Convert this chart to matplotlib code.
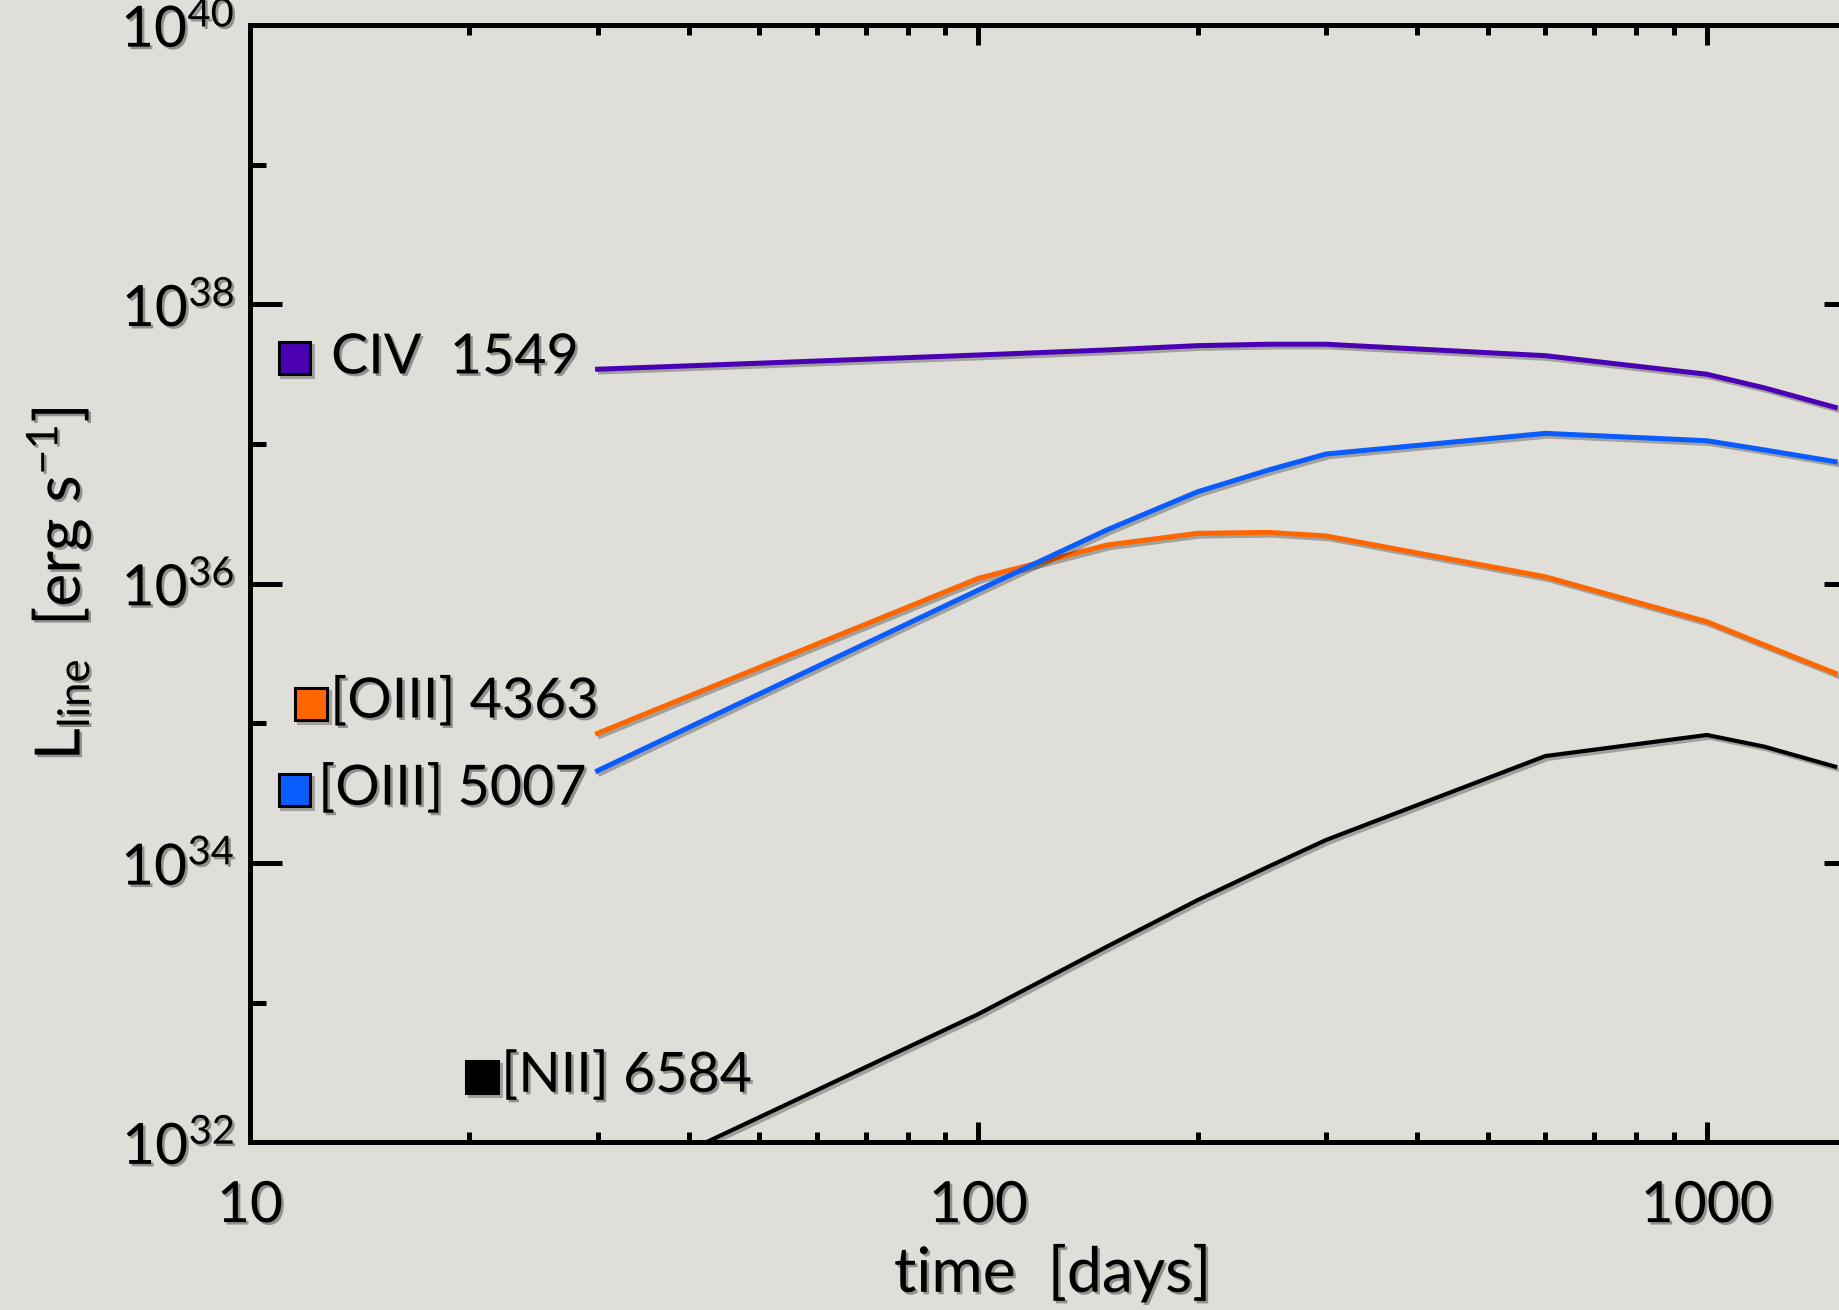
import numpy as np
import matplotlib
matplotlib.use("Agg")
import matplotlib.pyplot as plt
from matplotlib import patheffects as pe
from matplotlib.ticker import FixedLocator, FuncFormatter, NullFormatter

# ---------------- data ----------------
time_days = [30, 100, 150, 200, 250, 300, 600, 1000, 1200, 1500]
# log10 of line luminosity [erg s^-1]
log_L_civ_1549  = [37.535, 37.637, 37.673, 37.704, 37.714, 37.714, 37.632, 37.499, 37.401, 37.262]
log_L_oiii_4363 = [34.928, 36.038, 36.276, 36.360, 36.367, 36.341, 36.049, 35.727, 35.560, 35.358]
log_L_oiii_5007 = [34.660, 35.954, 36.384, 36.658, 36.813, 36.928, 37.076, 37.023, 36.957, 36.873]
log_L_nii_6584  = [31.633, 32.918, 33.400, 33.734, 33.973, 34.164, 34.765, 34.916, 34.832, 34.689]

line_names = ["CIV  1549", "[OIII] 4363", "[OIII] 5007", "[NII] 6584"]
line_colors = ["#4B00B4", "#FF6600", "#0A5CFF", "#000000"]

x_major = [10, 100, 1000]
y_major_exp = [32, 34, 36, 38, 40]
y_minor_exp = [33, 35, 37, 39]

# ---------------- style ----------------
BG = "#DFDED9"
plt.rcParams["font.family"] = ["Lato", "DejaVu Sans"]
plt.rcParams["mathtext.fontset"] = "custom"
plt.rcParams["mathtext.rm"] = "Lato"
plt.rcParams["mathtext.it"] = "Lato"
plt.rcParams["mathtext.bf"] = "Lato:bold"

fig = plt.figure(figsize=(18.4, 13.1), dpi=100, facecolor=BG)
# axes extends beyond the right edge of the canvas, as in the reference
ax = fig.add_axes([250 / 1840, (1310 - 1142.2) / 1310, 1605.6 / 1840, 1117.2 / 1310])
ax.set_facecolor(BG)

shadow_line = [pe.SimpleLineShadow(offset=(2, -2), alpha=0.28, shadow_color="black"), pe.Normal()]
shadow_text = [pe.withSimplePatchShadow(offset=(1.8, -1.8), alpha=0.35, shadow_rgbFace="black")]

series = [log_L_civ_1549, log_L_oiii_4363, log_L_oiii_5007, log_L_nii_6584]
widths = [3.6, 3.6, 3.6, 3.0]
for vals, col, lw in zip(series, line_colors, widths):
    ax.plot(time_days, 10.0 ** np.array(vals), color=col, lw=lw,
            solid_joinstyle="round", path_effects=shadow_line, zorder=3)

ax.set_xscale("log")
ax.set_yscale("log")
ax.set_xlim(10, 1600)
ax.set_ylim(1e32, 1e40)

# x ticks
ax.xaxis.set_major_locator(FixedLocator(x_major))
minors = [m * d for d in (10, 100, 1000) for m in range(2, 10)]
ax.xaxis.set_minor_locator(FixedLocator(minors))
ax.xaxis.set_major_formatter(FuncFormatter(lambda v, p: "%d" % round(v)))
ax.xaxis.set_minor_formatter(NullFormatter())
# y ticks
ax.yaxis.set_major_locator(FixedLocator([10.0 ** e for e in y_major_exp]))
ax.yaxis.set_minor_locator(FixedLocator([10.0 ** e for e in y_minor_exp]))
ax.yaxis.set_major_formatter(FuncFormatter(
    lambda v, p: r"$\mathregular{10^{%d}}$" % round(np.log10(v))))
ax.yaxis.set_minor_formatter(NullFormatter())

ax.tick_params(axis="x", which="major", direction="in", length=14.4, width=3.6,
               top=True, bottom=True, labelsize=41, pad=28)
ax.tick_params(axis="x", which="minor", direction="in", length=7.2, width=3.6,
               top=True, bottom=True)
ax.tick_params(axis="y", which="major", direction="in", length=23, width=3.6,
               left=True, right=True, labelsize=41, pad=11)
ax.tick_params(axis="y", which="minor", direction="in", length=11.5, width=3.6,
               left=True, right=True)
for s in ax.spines.values():
    s.set_linewidth(3.6)
    s.set_zorder(5)

ax.set_xlabel("time  [days]", fontsize=45, labelpad=7)
ax.set_ylabel(r"$\mathregular{L_{line}}$  [erg s$^{\mathregular{-1}}$]", fontsize=45, labelpad=20)

# ---------------- line labels (square + text) ----------------
label_pos = [  # (square x, square y, text x, text y) in axes fraction
    (0.0277, 0.7020, 0.0505, 0.7020),
    (0.0380, 0.3923, 0.0500, 0.3940),
    (0.0277, 0.3153, 0.0425, 0.3160),
    (0.1445, 0.0584, 0.1565, 0.0590),
]
for name, col, (sx, sy, tx, ty) in zip(line_names, line_colors, label_pos):
    ax.plot([sx], [sy], marker="s", markersize=23, markerfacecolor=col,
            markeredgecolor="black", markeredgewidth=2.2, transform=ax.transAxes,
            clip_on=False, zorder=6, path_effects=shadow_line)
    ax.text(tx, ty, name, transform=ax.transAxes, fontsize=40, ha="left",
            va="center", color="black", zorder=6)

for t in fig.findobj(matplotlib.text.Text):
    t.set_path_effects(shadow_text)

fig.savefig("out.png", dpi=100, facecolor=BG)
